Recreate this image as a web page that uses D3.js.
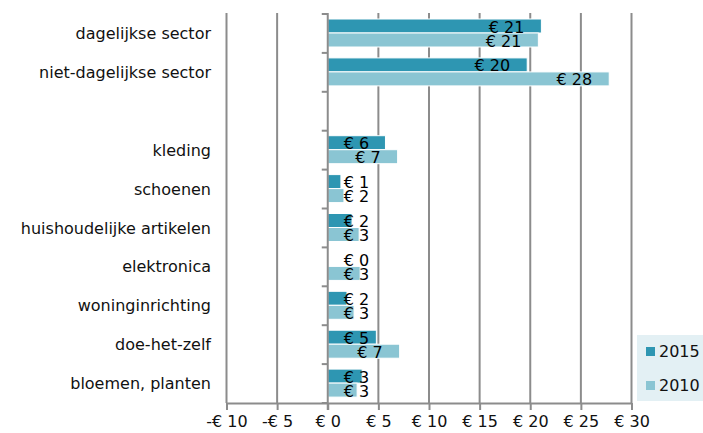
<!DOCTYPE html>
<html>
<head>
<meta charset="utf-8">
<script src="https://cdn.jsdelivr.net/npm/d3@7"></script>
<style>
  body { margin: 0; background: #fff; }
  text { font-family: "DejaVu Sans", Verdana, sans-serif; }
</style>
</head>
<body>
<svg class="chart"></svg>
<script>
var width = 703, height = 433;

// categories top to bottom (empty slot between the sectors and the branches)
var categories = ["dagelijkse sector", "niet-dagelijkse sector", "", "kleding", "schoenen",
  "huishoudelijke artikelen", "elektronica", "woninginrichting", "doe-het-zelf", "bloemen, planten"];
var series = ["2015", "2010"];
var values2015 = [21.1, 19.7, null, 5.7, 1.3, 2.4, 0, 1.9, 4.8, 3.4];
var values2010 = [20.8, 27.8, null, 6.9, 1.6, 3.1, 3.2, 2.6, 7.1, 2.9];
var tickValues = [-10, -5, 0, 5, 10, 15, 20, 25, 30];

var colors = { "2015": "#2e96b2", "2010": "#8ac5d3" };
var gridColor = "#8c8c8c";
var fontSize = "16px";

var chart = d3.select(".chart")
    .attr("width", width)
    .attr("height", height);

var x_scale = d3.scaleLinear()
    .domain([-10, 30])
    .range([226.5, 631.5]);

var y_scale = d3.scaleBand()
    .domain(d3.range(categories.length))
    .range([14, 403]);

var y_inner = d3.scaleBand()
    .domain(series)
    .range([5, 33]);

// vertical gridlines
chart.append("g")
    .selectAll("line")
    .data(tickValues.filter(function(d) { return d != 0; }))
    .enter().append("line")
    .attr("x1", function(d) { return x_scale(d); })
    .attr("x2", function(d) { return x_scale(d); })
    .attr("y1", 13)
    .attr("y2", 403)
    .attr("stroke", gridColor)
    .attr("stroke-width", 2);

// rows of data, one per category
var rows = categories.map(function(c, i) {
    return { i: i, name: c, vals: [
        { s: "2015", v: values2015[i] },
        { s: "2010", v: values2010[i] }
    ] };
});

var row = chart.selectAll("g.row")
    .data(rows)
    .enter().append("g")
    .attr("class", "row")
    .attr("transform", function(d) { return "translate(0," + y_scale(d.i) + ")"; });

row.selectAll("rect")
    .data(function(d) { return d.vals.filter(function(e) { return e.v != null; }); })
    .enter().append("rect")
    .attr("x", x_scale(0))
    .attr("y", function(d) { return y_inner(d.s); })
    .attr("width", function(d) { return x_scale(d.v) - x_scale(0); })
    .attr("height", y_inner.bandwidth())
    .attr("fill", function(d) { return colors[d.s]; })
    .attr("stroke", "#fff")
    .attr("stroke-width", 1);

// data labels
row.selectAll("text.lbl")
    .data(function(d) { return d.vals.filter(function(e) { return e.v != null; }); })
    .enter().append("text")
    .attr("class", "lbl")
    .attr("font-size", fontSize)
    .attr("fill", "#000")
    .attr("y", function(d) { return y_inner(d.s) + y_inner.bandwidth() / 2 + 1; })
    .attr("dy", "0.35em")
    .text(function(d) { return "€ " + Math.round(d.v); })
    .attr("x", function(d) {
        var w = this.getComputedTextLength();
        return Math.max(x_scale(d.v) - 17 - w, x_scale(0) + 16);
    });

// category labels
chart.append("g")
    .selectAll("text")
    .data(rows)
    .enter().append("text")
    .attr("x", 211)
    .attr("y", function(d) { return y_scale(d.i) + y_scale.bandwidth() / 2; })
    .attr("dy", "0.35em")
    .attr("text-anchor", "end")
    .attr("font-size", fontSize)
    .attr("fill", "#111")
    .text(function(d) { return d.name; });

// y axis at zero with ticks on band boundaries
var yAxis = chart.append("g");
yAxis.append("line")
    .attr("x1", x_scale(0)).attr("x2", x_scale(0))
    .attr("y1", 13).attr("y2", 410)
    .attr("stroke", gridColor).attr("stroke-width", 2);
yAxis.selectAll("line.tick")
    .data(d3.range(categories.length + 1))
    .enter().append("line")
    .attr("class", "tick")
    .attr("x1", x_scale(0) - 6).attr("x2", x_scale(0))
    .attr("y1", function(d) { return y_scale.range()[0] + d * y_scale.step(); })
    .attr("y2", function(d) { return y_scale.range()[0] + d * y_scale.step(); })
    .attr("stroke", gridColor).attr("stroke-width", 2);

// x axis
var x_axis = d3.axisBottom(x_scale)
    .tickValues(tickValues)
    .tickSize(7)
    .tickSizeOuter(0)
    .tickFormat(function(d) { return (d < 0 ? "-" : "") + "€ " + Math.abs(d); });

var xg = chart.append("g")
    .attr("transform", "translate(0,403)")
    .call(x_axis);
xg.select(".domain").attr("stroke", gridColor).attr("stroke-width", 2);
xg.selectAll(".tick line").attr("stroke", gridColor).attr("stroke-width", 2);
xg.selectAll(".tick text")
    .attr("font-family", "DejaVu Sans, Verdana, sans-serif")
    .attr("font-size", fontSize)
    .attr("fill", "#111")
    .attr("y", 13)
    .attr("dy", "0.71em");

// legend
var legend = chart.append("g");
legend.append("rect")
    .attr("x", 637).attr("y", 335)
    .attr("width", 70).attr("height", 66)
    .attr("fill", "#e3f0f4");
var item = legend.selectAll("g")
    .data(series)
    .enter().append("g")
    .attr("transform", function(d, i) { return "translate(646," + (347 + i * 34) + ")"; });
item.append("rect")
    .attr("width", 9).attr("height", 9)
    .attr("fill", function(d) { return colors[d]; });
item.append("text")
    .attr("x", 13).attr("y", 4.5)
    .attr("dy", "0.35em")
    .attr("font-size", fontSize)
    .attr("fill", "#111")
    .text(function(d) { return d; });
</script>
</body>
</html>
